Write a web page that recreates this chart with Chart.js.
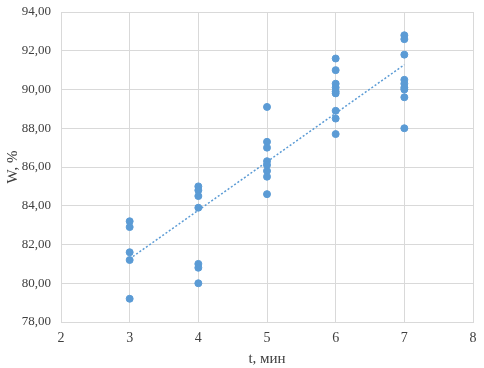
<!DOCTYPE html>
<html>
<head>
<meta charset="utf-8">
<script src="https://cdn.jsdelivr.net/npm/chart.js@4/dist/chart.umd.min.js"></script>
<style>
  html, body { margin: 0; padding: 0; background: #fff; }
</style>
</head>
<body>
<canvas id="chart" width="484" height="368"></canvas>
<script>
// measured values, W (%) per time t (min)
const t3 = [83.2, 82.9, 81.6, 81.2, 79.2]
const t4 = [85.0, 84.8, 84.5, 83.9, 81.0, 80.8, 80.0]
const t5 = [89.1, 87.3, 87.0, 86.3, 86.1, 85.8, 85.5, 84.6]
const t6 = [91.6, 91.0, 90.3, 90.1, 89.9, 89.8, 88.9, 88.5, 87.7]
const t7 = [92.8, 92.6, 91.8, 90.5, 90.3, 90.1, 90.0, 89.6, 88.0]
const times = [3, 4, 5, 6, 7]
const groups = [t3, t4, t5, t6, t7]

const xTitle = 't, мин'
const yTitle = 'W, %'

const points = []
times.forEach((t, i) => {
	groups[i].forEach((w) => points.push({ x: t, y: w }))
})

// linear trend (least squares)
const n = points.length
let sx = 0, sy = 0, sxx = 0, sxy = 0
points.forEach((p) => {
	sx += p.x; sy += p.y; sxx += p.x * p.x; sxy += p.x * p.y
})
const slope = (n * sxy - sx * sy) / (n * sxx - sx * sx)
const icpt = (sy - slope * sx) / n
const tMin = Math.min(...times), tMax = Math.max(...times)
const trend = [
	{ x: tMin, y: icpt + slope * tMin },
	{ x: tMax, y: icpt + slope * tMax },
]

const blue = '#5b9bd5'
const family = "'Liberation Serif', 'Times New Roman', serif"
const font = { family: family, size: 13 }

const draw = () => {
	new Chart(document.getElementById('chart'), {
		type: 'scatter',
		data: {
			datasets: [
				{
					data: points,
					backgroundColor: blue,
					borderColor: blue,
					pointRadius: 3.5,
					pointHoverRadius: 3.5,
					order: 1,
				},
				{
					type: 'line',
					data: trend,
					borderColor: blue,
					borderWidth: 1.5,
					borderDash: [2, 2],
					pointRadius: 0,
					fill: false,
					order: 2,
				},
			],
		},
		options: {
			responsive: false,
			animation: false,
			layout: { padding: { top: 12, right: 11, left: 0, bottom: 0 } },
			plugins: { legend: { display: false }, tooltip: { enabled: false } },
			scales: {
				x: {
					type: 'linear',
					min: 2,
					max: 8,
					ticks: { stepSize: 1, color: '#404040', font: { family: family, size: 14 }, padding: 8 },
					grid: { color: '#d9d9d9', drawTicks: false },
					border: { color: '#d9d9d9' },
					title: { display: true, text: xTitle, color: '#404040', font: { family: family, size: 15 }, padding: { top: 0, bottom: 0 } },
					afterFit: (scale) => { scale.height = 46; scale.paddingRight = 0; scale.paddingLeft = 0 },
				},
				y: {
					min: 78,
					max: 94,
					ticks: {
						stepSize: 2,
						color: '#404040',
						font: font,
						padding: 10,
						callback: (v) => v.toFixed(2).replace('.', ','),
					},
					grid: { color: '#d9d9d9', drawTicks: false },
					border: { color: '#d9d9d9' },
					title: { display: true, text: yTitle, color: '#404040', font: { family: family, size: 15 }, padding: { top: 4, bottom: 0 } },
					afterFit: (scale) => { scale.width = 61; scale.paddingTop = 0; scale.paddingBottom = 0 },
				},
			},
		},
	})
}

document.fonts.load("13px 'Liberation Serif'").then(draw, draw)
</script>
</body>
</html>
